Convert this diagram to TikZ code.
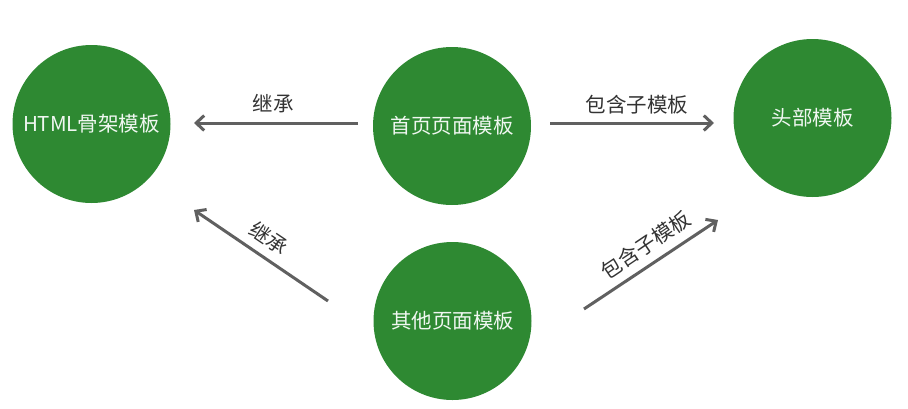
\documentclass[tikz,border=0pt]{standalone}
\usepackage{fontspec}
\newfontfamily\cjk{Noto Sans CJK SC}
\usetikzlibrary{arrows.meta}
\definecolor{nodegreen}{RGB}{46,137,50}
\definecolor{arrowgray}{RGB}{96,96,96}
\definecolor{labelgray}{RGB}{51,51,51}
\tikzset{
  tmpl/.style={circle, fill=nodegreen, minimum size=158pt, inner sep=0pt,
    text=white!93!nodegreen, font=\cjk\fontsize{20.5}{24}\selectfont},
  arr/.style={draw=arrowgray, line width=3pt,
    -{Straight Barb[length=8pt,width=15pt,line width=3pt]}},
  lbl/.style={text=labelgray, inner sep=0pt, font=\cjk\fontsize{20.5}{24}\selectfont}
}
\begin{document}
\begin{tikzpicture}[x=1pt,y=-1pt]
  \useasboundingbox (0,0) rectangle (908,408);
  % template nodes
  \node[tmpl] (html)  at (91.5,124) {HTML骨架模板};
  \node[tmpl] (home)  at (452,126)  {首页页面模板};
  \node[tmpl] (head)  at (812.5,118) {头部模板};
  \node[tmpl] (other) at (452.5,321) {其他页面模板};
  % arrow end points
  \coordinate (homeL)  at (358,123);
  \coordinate (htmlR)  at (194,123);
  \coordinate (homeR)  at (550,123);
  \coordinate (headL)  at (714,123);
  \coordinate (otherL) at (328,301);
  \coordinate (htmlB)  at (194,210);
  \coordinate (otherR) at (584,309);
  \coordinate (headB)  at (718,220);
  % connectors
  \draw[arr] (homeL) -- (htmlR);
  \draw[arr] (homeR) -- (headL);
  \draw[arr] (otherL) -- (htmlB);
  \draw[arr] (otherR) -- (headB);
  % connector labels
  \node[lbl] (inh1) at (273,104) {继承};
  \node[lbl] (inc1) at (637,105) {包含子模板};
  \node[lbl, rotate=-34] (inh2) at (269,238) {继承};
  \node[lbl, rotate=34]  (inc2) at (646,245) {包含子模板};
\end{tikzpicture}
\end{document}
